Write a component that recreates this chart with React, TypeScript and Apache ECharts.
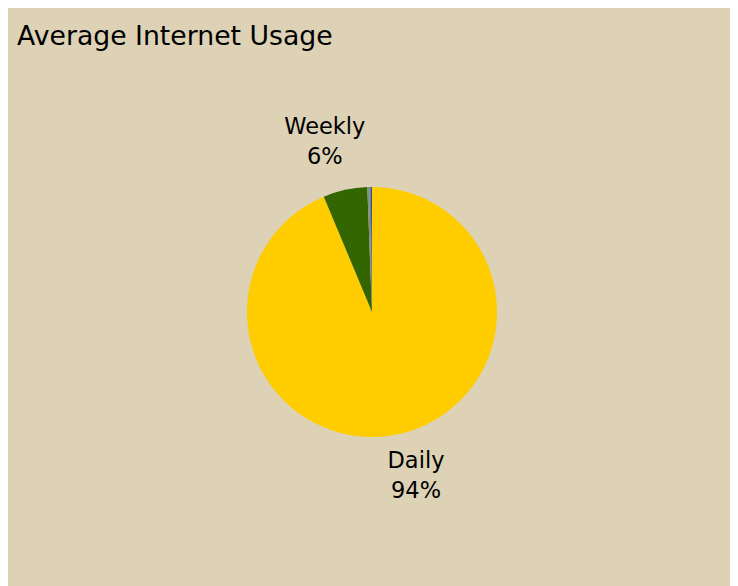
import React, { useEffect, useRef } from "react";
import * as echarts from "echarts";

const categories = ["Daily", "Weekly", "Monthly", "Less often", "Never"];
const values = [93.7, 5.7, 0.25, 0.2, 0.15];
const colors = ["#FFCC00", "#336600", "#8C8C6E", "#339999", "#663399"];
const labelled = [true, true, false, false, false];

const CX = 364;
const CY = 304;
const R = 125;
const LABEL_R = 173;
const LABEL_ROT = (-3.4 * Math.PI) / 180;
const LABEL_DY = -4.5;

export default function App() {
  const ref = useRef<HTMLDivElement>(null);
  useEffect(() => {
    if (!ref.current) return;
    const chart = echarts.init(ref.current, null, { renderer: "svg" });
    const total = values.reduce((a, b) => a + b, 0);
    const mids: number[] = [];
    let acc = 0;
    values.forEach((v) => {
      mids.push(((acc + v / 2) / total) * Math.PI * 2);
      acc += v;
    });
    chart.setOption({
      animation: false,
      backgroundColor: "#DDD2B6",
      title: {
        text: "Average Internet Usage",
        left: 4,
        top: 9,
        textStyle: {
          fontFamily: "DejaVu Sans",
          fontSize: 26.7,
          fontWeight: "normal",
          color: "#000",
        },
      },
      series: [
        {
          type: "pie",
          center: [CX, CY],
          radius: R,
          startAngle: 90,
          clockwise: true,
          avoidLabelOverlap: false,
          data: categories.map((c, i) => ({
            name: c,
            value: values[i],
            itemStyle: { color: colors[i] },
            label: { show: labelled[i] },
          })),
          label: {
            position: "outside",
            formatter: (p: any) => `${p.name}\n${Math.round(p.percent)}%`,
            fontFamily: "DejaVu Sans",
            fontSize: 22.5,
            lineHeight: 30,
            color: "#000",
            align: "center",
          },
          labelLine: { show: false },
          labelLayout: (p: any) => {
            const a = mids[p.dataIndex] + LABEL_ROT;
            return {
              x: CX + Math.sin(a) * LABEL_R,
              y: CY - Math.cos(a) * LABEL_R + LABEL_DY,
              align: "center",
              verticalAlign: "middle",
            };
          },
        },
      ],
    });
    return () => chart.dispose();
  }, []);
  return <div ref={ref} style={{ width: 730, height: 578 }} />;
}
